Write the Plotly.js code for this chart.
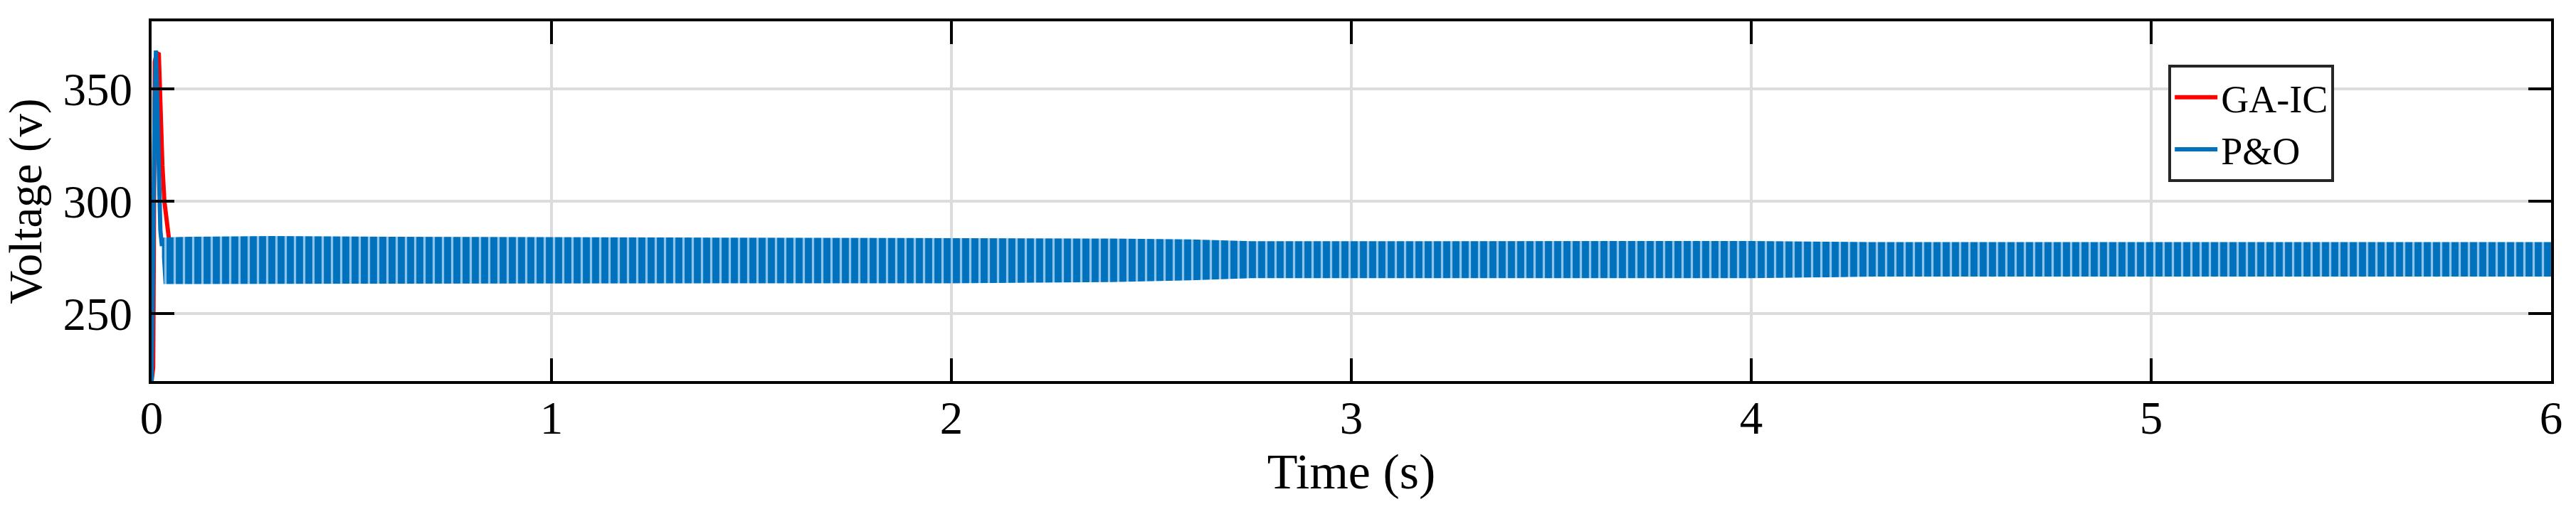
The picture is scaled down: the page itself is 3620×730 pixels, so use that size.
<!DOCTYPE html>
<html>
<head>
<meta charset="utf-8">
<script src="https://cdn.plot.ly/plotly-3.0.1.min.js"></script>
<style>html,body{margin:0;padding:0;background:#fff;}#chart{width:3620px;height:730px;}</style>
</head>
<body>
<div id="chart"></div>
<script>
// ---- data ----
// GA-IC (red): start-up transient then steady value (mostly hidden under P&O band)
var gaTime  = [0, 0.004, 0.008, 0.012, 0.018, 0.022, 0.027, 0.032, 0.038, 0.045, 0.05, 0.3, 1.0, 2.0, 2.7, 3.5, 4.3, 5.0, 6.0];
var gaVolt  = [220, 226, 362, 365, 366, 338, 316, 300, 290, 281, 276, 273.5, 273.5, 273.5, 274, 274, 274, 274, 274];

// P&O (blue): start-up transient
var poTime  = [0, 0.004, 0.008, 0.011, 0.014, 0.018, 0.022, 0.026];
var poVolt  = [220, 300, 345, 367, 340, 326, 287, 280];

// P&O steady oscillation band (upper / lower envelopes)
var bandTime  = [0.026, 0.03, 0.1, 0.3, 0.6, 1.0, 1.5, 2.0, 2.4, 2.6, 2.75, 3.0, 3.5, 4.0, 4.2, 4.3, 4.6, 5.0, 5.5, 6.0];
var bandUpper = [283, 283.9, 284.2, 284.5, 284.2, 284.0, 283.8, 283.6, 283.4, 283.0, 282.2, 282.2, 282.3, 282.3, 282.0, 281.8, 281.8, 281.8, 281.8, 281.8];
var bandLower = [275, 263.2, 263.2, 263.3, 263.3, 263.4, 263.5, 263.5, 264.0, 264.8, 265.8, 265.8, 265.8, 265.8, 266.2, 266.5, 266.5, 266.5, 266.5, 266.5];

var xTicks = [0, 1, 2, 3, 4, 5, 6];
var yTicks = [250, 300, 350];
var seriesNames = ['GA-IC', 'P&O'];

// ---- styles ----
var RED = '#FF0000', BLUE = '#0072BD';
var FONT = 'Liberation Serif, Times New Roman, serif';

var traces = [
  {x: gaTime, y: gaVolt, type: 'scatter', mode: 'lines', name: seriesNames[0],
   line: {color: RED, width: 6}},
  {x: bandTime, y: bandLower, type: 'scatter', mode: 'lines', showlegend: false, hoverinfo: 'skip',
   line: {color: BLUE, width: 0}},
  {x: bandTime, y: bandUpper, type: 'scatter', mode: 'lines', showlegend: false, hoverinfo: 'skip',
   fill: 'tonexty', fillcolor: BLUE,
   fillpattern: {shape: '|', bgcolor: BLUE, fgcolor: '#8DC3E8', size: 13, solidity: 0.25},
   line: {color: BLUE, width: 0}},
  {x: poTime, y: poVolt, type: 'scatter', mode: 'lines', name: seriesNames[1],
   line: {color: BLUE, width: 6}}
];

var axisCommon = {
  showline: true, linecolor: '#000', linewidth: 4, mirror: 'ticks',
  ticks: 'inside', ticklen: 32, tickwidth: 4, tickcolor: '#000',
  showgrid: true, gridcolor: '#DCDCDC', gridwidth: 4,
  zeroline: false,
  tickfont: {family: FONT, size: 65, color: '#000'}
};

var layout = {
  width: 3620, height: 730,
  margin: {l: 213, r: 35, t: 30, b: 194},
  paper_bgcolor: '#fff', plot_bgcolor: '#fff',
  font: {family: FONT, color: '#000'},
  showlegend: true,
  xaxis: Object.assign({}, axisCommon, {
    range: [0, 6], tickvals: xTicks, ticktext: xTicks.map(String),
    ticklabelstandoff: -8,
    title: {text: 'Time (s)', font: {family: FONT, size: 70, color: '#000'}, standoff: 16}
  }),
  yaxis: Object.assign({}, axisCommon, {
    range: [220, 380], tickvals: yTicks, ticktext: yTicks.map(String),
    ticklabelstandoff: 10,
    title: {text: 'Voltage (v)', font: {family: FONT, size: 65, color: '#000'}, standoff: 15}
  }),
  legend: {
    x: 0.8405, y: 0.879, xanchor: 'left', yanchor: 'top',
    traceorder: 'normal',
    bgcolor: '#fff', bordercolor: '#262626', borderwidth: 4,
    font: {family: FONT, size: 54, color: '#000'},
    itemwidth: 60
  }
};

Plotly.newPlot('chart', traces, layout, {staticPlot: true, displayModeBar: false});
</script>
</body>
</html>
